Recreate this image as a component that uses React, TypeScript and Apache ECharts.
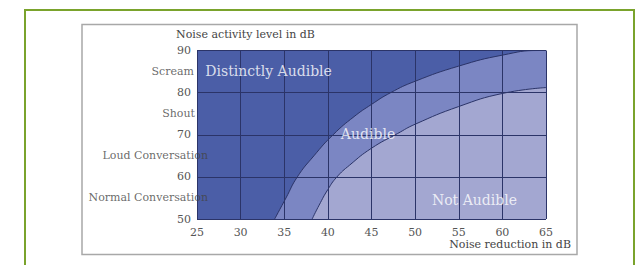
import React, { useEffect, useRef } from "react";
import * as echarts from "echarts";

// Axis ticks
const xTicks = [25, 30, 35, 40, 45, 50, 55, 60, 65];
const yTicks = [50, 60, 70, 80, 90];

// Boundary between "Distinctly Audible" and "Audible"
const outerX = [33.9, 35.2, 36.5, 38.4, 40.6, 43, 45, 47.2, 50, 55, 60, 64.2, 65];
const outerY = [50, 55, 60, 65, 70, 74.3, 77.2, 80, 82.7, 86.3, 88.9, 90, 90];

// Boundary between "Audible" and "Not Audible"
const innerX = [38.2, 39, 40, 41, 42.5, 45, 48, 50, 55, 60, 65];
const innerY = [50, 53.3, 57, 59.9, 62.8, 66.8, 70.3, 72.5, 76.7, 79.8, 81.2];

// Zone labels (data coordinates)
const zoneNames = ["Distinctly Audible", "Audible", "Not Audible"];
const zoneX = [33.2, 44.6, 56.8];
const zoneY = [85.1, 70.2, 54.5];

// Noise activity levels on the y axis
const levelNames = ["Normal Conversation", "Loud Conversation", "Shout", "Scream"];
const levelY = [55, 65, 75, 85];

const xTitle = "Noise reduction in dB";
const yTitle = "Noise activity level in dB";

const FONT = "DejaVu Serif";

export default function App() {
  const ref = useRef<HTMLDivElement>(null);

  useEffect(() => {
    if (!ref.current) return;
    const chart = echarts.init(ref.current, undefined, { renderer: "svg" });
    const levelShift = [11, 11, -2, -3];
    const gridLine = { color: "#2b3468", width: 1 };
    chart.setOption({
      animation: false,
      backgroundColor: "#ffffff",
      grid: {
        left: 197,
        right: 92,
        top: 50.5,
        bottom: 46,
        show: true,
        backgroundColor: "#4b5ea7",
        borderWidth: 0,
      },
      xAxis: {
        type: "value",
        min: xTicks[0],
        max: xTicks[xTicks.length - 1],
        interval: 5,
        z: 3,
        axisLine: { show: false },
        axisTick: { show: false },
        axisLabel: { color: "#555", fontFamily: FONT, fontSize: 11, margin: 8 },
        splitLine: { show: true, lineStyle: gridLine },
      },
      yAxis: {
        type: "value",
        min: yTicks[0],
        max: yTicks[yTicks.length - 1],
        interval: 10,
        z: 3,
        axisLine: { show: false },
        axisTick: { show: false },
        axisLabel: { color: "#555", fontFamily: FONT, fontSize: 11, margin: 6 },
        splitLine: { show: true, lineStyle: gridLine },
      },
      series: [
        {
          type: "line",
          z: 1,
          smooth: 0.5,
          symbol: "none",
          data: outerX.map((x, i) => [x, outerY[i]]),
          lineStyle: { color: "#2b3468", width: 1 },
          areaStyle: { color: "#7b86c3", opacity: 1, origin: "start" },
        },
        {
          type: "line",
          z: 1,
          smooth: 0.5,
          symbol: "none",
          data: innerX.map((x, i) => [x, innerY[i]]),
          lineStyle: { color: "#2b3468", width: 1 },
          areaStyle: { color: "#a3a7d1", opacity: 1, origin: "start" },
        },
        {
          type: "scatter",
          z: 10,
          symbolSize: 0,
          clip: false,
          data: zoneNames.map((n, i) => ({ name: n, value: [zoneX[i], zoneY[i]] })),
          label: {
            show: true,
            position: "inside",
            formatter: "{b}",
            color: "#ffffff",
            fontFamily: FONT,
            fontSize: 14,
          },
        },
        {
          type: "scatter",
          z: 10,
          symbolSize: 0,
          clip: false,
          data: levelNames.map((n, i) => ({
            name: n,
            value: [xTicks[0], levelY[i]],
            label: { offset: [levelShift[i], 0] },
          })),
          label: {
            show: true,
            position: "left",
            distance: 0,
            formatter: "{b}",
            color: "#444",
            fontFamily: FONT,
            fontSize: 11,
          },
        },
      ],
      graphic: [
        {
          type: "rect",
          z: -10,
          shape: { x: 25, y: 10, width: 609, height: 300 },
          style: { fill: "#ffffff", stroke: "#7aa32c", lineWidth: 2 },
        },
        {
          type: "rect",
          z: -9,
          shape: { x: 82, y: 24.5, width: 495, height: 230 },
          style: { fill: "#ffffff", stroke: "#a8a8a8", lineWidth: 1.5 },
        },
        {
          type: "text",
          x: 176,
          y: 34,
          style: {
            text: yTitle,
            fill: "#444",
            font: `11px "${FONT}"`,
            verticalAlign: "middle",
            align: "left",
          },
        },
        {
          type: "text",
          x: 571,
          y: 244,
          style: {
            text: xTitle,
            fill: "#444",
            font: `11px "${FONT}"`,
            verticalAlign: "middle",
            align: "right",
          },
        },
      ],
    });
    return () => chart.dispose();
  }, []);

  return (
    <div
      ref={ref}
      style={{ position: "fixed", left: 0, top: 0, width: 638, height: 265 }}
    />
  );
}
